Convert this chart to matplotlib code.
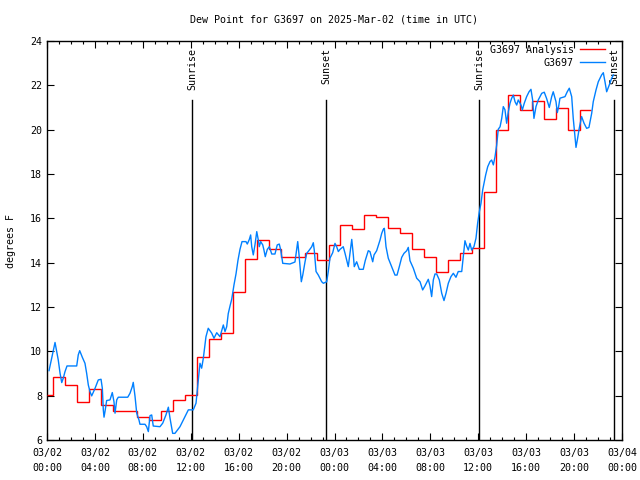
import numpy as np
import matplotlib
matplotlib.use("Agg")
import matplotlib.pyplot as plt

plt.rcParams["font.family"] = ["DejaVu Sans Mono"]
FS = 7.2

# ── Data (hours since 2025-03-02 00:00 UTC) ─────────────────────────────────
analysis_hours = list(range(46))
analysis_vals = [
    8.03, 8.83, 8.48, 7.73, 8.29, 7.57, 7.31, 7.31, 7.05, 6.90,
    7.31, 7.80, 8.03, 9.76, 10.55, 10.82, 12.69, 14.16, 15.02, 14.62,
    14.24, 14.24, 14.42, 14.10, 14.80, 15.70, 15.52, 16.15, 16.08, 15.55,
    15.32, 14.60, 14.27, 13.60, 14.10, 14.42, 14.64, 17.20, 19.99, 21.56,
    20.90, 21.30, 20.47, 20.96, 20.00, 20.90,
]
analysis_end = 45.45

obs_hours = [
    0.17, 0.67, 0.94, 1.09, 1.23, 1.36, 1.50, 1.67, 2.48, 2.61,
    2.73, 2.95, 3.17, 3.31, 3.45, 3.59, 3.73, 4.01, 4.28, 4.51,
    4.62, 4.70, 4.76, 4.84, 4.98, 5.26, 5.45, 5.59, 5.68, 5.82,
    5.95, 6.74, 6.93, 7.12, 7.20, 7.35, 7.49, 7.68, 7.76, 8.18,
    8.32, 8.46, 8.60, 8.74, 8.87, 9.43, 9.66, 9.93, 10.13, 10.27,
    10.41, 10.49, 10.68, 11.10, 11.52, 11.80, 12.21, 12.44, 12.63, 12.77,
    12.91, 13.05, 13.27, 13.46, 13.75, 13.94, 14.17, 14.44, 14.72, 14.86,
    15.00, 15.13, 15.28, 15.42, 15.61, 15.78, 15.94, 16.11, 16.28, 16.61,
    16.72, 16.89, 17.00, 17.09, 17.22, 17.36, 17.51, 17.64, 17.72, 17.84,
    18.01, 18.11, 18.22, 18.39, 18.56, 18.76, 19.03, 19.22, 19.39, 19.51,
    19.68, 20.28, 20.70, 20.84, 20.93, 21.04, 21.12, 21.23, 21.35, 21.54,
    21.68, 21.90, 22.10, 22.23, 22.31, 22.46, 22.65, 22.93, 23.07, 23.35,
    23.48, 23.62, 23.85, 24.04, 24.18, 24.32, 24.46, 24.73, 24.88, 25.15,
    25.29, 25.44, 25.57, 25.65, 25.85, 26.07, 26.40, 26.57, 26.82, 26.96,
    27.19, 27.30, 27.52, 27.80, 27.94, 28.07, 28.16, 28.30, 28.49, 28.77,
    29.05, 29.22, 29.41, 29.61, 29.80, 30.03, 30.16, 30.30, 30.58, 30.86,
    31.14, 31.36, 31.55, 31.83, 31.97, 32.11, 32.25, 32.39, 32.53, 32.75,
    32.95, 33.14, 33.31, 33.50, 33.72, 33.92, 34.14, 34.33, 34.62, 34.75,
    34.89, 35.03, 35.17, 35.31, 35.45, 35.64, 35.81, 35.95, 36.09, 36.23,
    36.37, 36.51, 36.62, 36.79, 36.98, 37.12, 37.26, 37.40, 37.54, 37.67,
    37.82, 37.96, 38.09, 38.23, 38.37, 38.51, 38.65, 38.79, 38.93, 39.07,
    39.21, 39.34, 39.57, 39.68, 39.84, 40.04, 40.24, 40.40, 40.54, 40.65,
    40.82, 41.01, 41.30, 41.51, 41.71, 41.93, 42.13, 42.26, 42.49, 42.60,
    42.71, 42.82, 43.24, 43.43, 43.60, 43.80, 43.93, 44.08, 44.16, 44.27,
    44.43, 44.63, 44.83, 45.05, 45.24, 45.47, 45.60, 45.83, 46.02, 46.30,
    46.44, 46.58, 46.72, 46.94, 47.14, 47.28,
]
obs_vals = [
    9.13, 10.40, 9.61, 9.01, 8.59, 8.79, 9.08, 9.34, 9.34, 9.84,
    10.03, 9.73, 9.46, 9.01, 8.48, 8.18, 7.99, 8.33, 8.71, 8.74,
    8.33, 7.36, 7.03, 7.28, 7.78, 7.81, 8.14, 7.73, 7.21, 7.81,
    7.93, 7.93, 8.11, 8.41, 8.60, 7.96, 7.21, 6.90, 6.71, 6.71,
    6.60, 6.38, 7.10, 7.13, 6.63, 6.60, 6.76, 7.13, 7.48, 6.98,
    6.53, 6.30, 6.30, 6.60, 7.05, 7.36, 7.36, 7.66, 8.71, 9.46,
    9.24, 9.69, 10.66, 11.04, 10.82, 10.59, 10.84, 10.66, 11.19, 10.89,
    11.11, 11.70, 12.05, 12.35, 13.00, 13.50, 14.10, 14.60, 14.95, 14.95,
    14.84, 15.05, 15.25, 14.72, 14.35, 14.80, 15.40, 15.02, 14.72, 14.95,
    14.80, 14.57, 14.27, 14.60, 14.72, 14.39, 14.39, 14.80, 14.84, 14.57,
    13.97, 13.94, 14.03, 14.57, 14.95, 14.35, 13.82, 13.14, 13.44, 14.04,
    14.42, 14.57, 14.72, 14.90, 14.57, 13.60, 13.44, 13.14, 13.07, 13.14,
    13.60, 14.20, 14.45, 14.87, 14.72, 14.50, 14.60, 14.72, 14.42, 13.82,
    14.42, 15.05, 14.35, 13.82, 14.04, 13.70, 13.70, 14.10, 14.54, 14.50,
    14.04, 14.35, 14.54, 15.02, 15.32, 15.50, 15.55, 14.72, 14.20, 13.82,
    13.44, 13.44, 13.82, 14.24, 14.42, 14.54, 14.69, 14.09, 13.75, 13.30,
    13.14, 12.77, 12.95, 13.25, 12.95, 12.47, 13.22, 13.49, 13.49, 13.22,
    12.62, 12.29, 12.62, 13.07, 13.37, 13.52, 13.34, 13.60, 13.60, 14.27,
    14.99, 14.75, 14.57, 14.87, 14.57, 14.72, 15.10, 15.78, 16.30, 16.68,
    17.28, 17.65, 17.96, 18.33, 18.56, 18.63, 18.41, 18.78, 19.31, 20.02,
    20.13, 20.51, 21.04, 20.90, 20.29, 20.81, 21.19, 21.42, 21.56, 21.26,
    21.11, 21.34, 21.11, 20.89, 21.19, 21.49, 21.71, 21.82, 21.34, 20.51,
    21.04, 21.34, 21.64, 21.69, 21.40, 21.00, 21.49, 21.71, 21.26, 20.77,
    21.04, 21.42, 21.49, 21.71, 21.87, 21.49, 20.51, 19.68, 19.20, 19.53,
    20.06, 20.59, 20.29, 20.06, 20.10, 20.74, 21.26, 21.79, 22.16, 22.47,
    22.57, 22.16, 21.71, 22.02, 22.32, 22.47,
]

sun_hours = [12.10, 23.29, 36.09, 47.33]
sun_labels = ["Sunrise", "Sunset", "Sunrise", "Sunset"]

tick_hours = list(range(0, 49, 4))
tick_labels = [
    "03/02\n00:00", "03/02\n04:00", "03/02\n08:00", "03/02\n12:00",
    "03/02\n16:00", "03/02\n20:00", "03/03\n00:00", "03/03\n04:00",
    "03/03\n08:00", "03/03\n12:00", "03/03\n16:00", "03/03\n20:00",
    "03/04\n00:00",
]

# ── Plot ─────────────────────────────────────────────────────────────────────
fig = plt.figure(figsize=(6.4, 4.8), dpi=100)
ax = fig.add_axes([47 / 640, 40 / 480, 575 / 640, 399 / 480])

edges = np.concatenate([[0.0], np.arange(0.5, analysis_hours[-1], 1.0), [analysis_end]])
ax.stairs(analysis_vals, edges, baseline=None, color="#ff0000", lw=1.0,
          label="G3697 Analysis", zorder=3)
ax.plot(obs_hours, obs_vals, color="#0080ff", lw=1.0, label="G3697", zorder=4)

for h, lab in zip(sun_hours, sun_labels):
    ax.axvline(h, ymin=0, ymax=(21.35 - 6) / 18, color="black", lw=1.0, zorder=2)
    ax.text(h, 23.7, lab, rotation=90, ha="center", va="top", fontsize=FS)

ax.set_xlim(0, 48)
ax.set_ylim(6, 24)
ax.set_xticks(tick_hours)
ax.set_xticklabels(tick_labels, fontsize=FS, linespacing=1.6)
ax.set_xticks(range(0, 49), minor=True)
ax.set_yticks(range(6, 25, 2))
ax.tick_params(axis="both", which="both", direction="in", top=True, right=True,
               labelsize=FS, width=0.8)
ax.tick_params(axis="both", which="major", length=5)
ax.tick_params(axis="x", which="minor", length=2.5)
ax.tick_params(axis="x", pad=6)
for s in ax.spines.values():
    s.set_linewidth(1.0)

ax.set_ylabel("degrees F", fontsize=FS, labelpad=10)
ax.set_title("Dew Point for G3697 on 2025-Mar-02 (time in UTC)", fontsize=FS, pad=13)

ax.legend(loc="upper right", bbox_to_anchor=(0.986, 1.013), frameon=False,
          markerfirst=False, fontsize=FS, handlelength=2.5, handletextpad=0.6,
          labelspacing=0.3)

fig.savefig("out.png", dpi=100)
